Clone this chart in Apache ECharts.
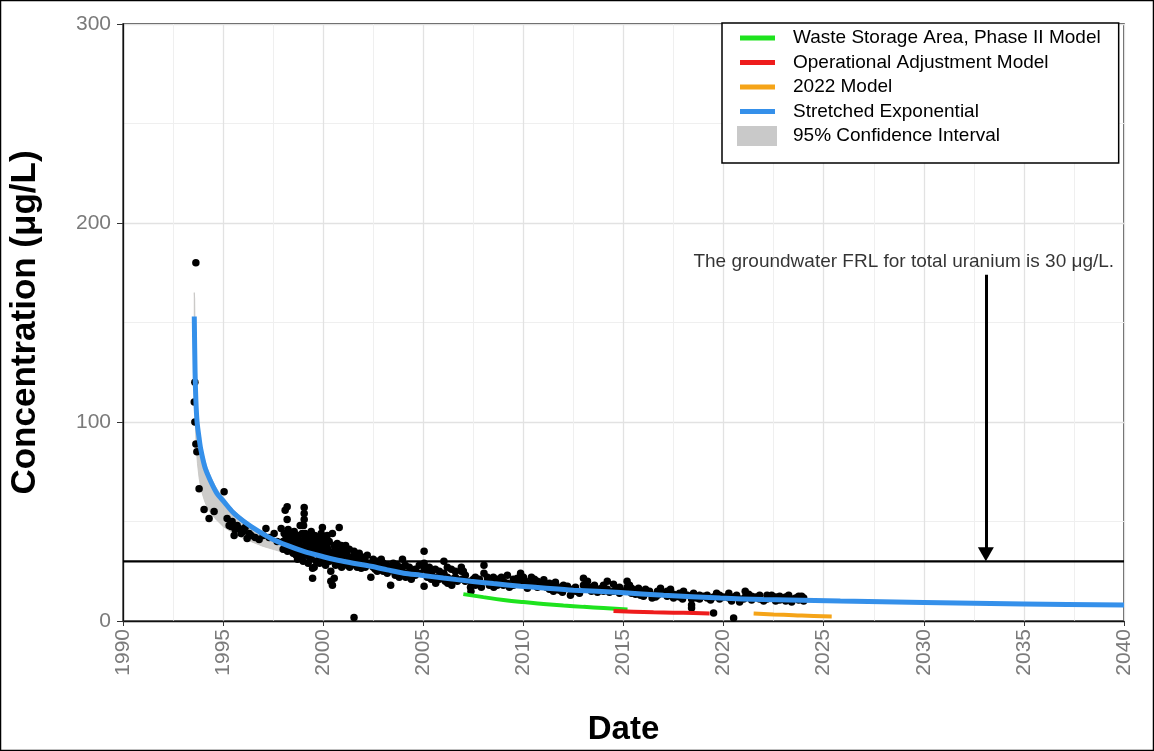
<!DOCTYPE html>
<html><head><meta charset="utf-8">
<script src="https://cdn.jsdelivr.net/npm/echarts@6/dist/echarts.min.js"></script>
<style>html,body{margin:0;padding:0;background:#fff}#c{width:1154px;height:751px}</style>
</head><body><div id="c"></div>
<script>
// ---------- data ----------
const yearTicks = [1990, 1995, 2000, 2005, 2010, 2015, 2020, 2025, 2030, 2035, 2040];
const concTicks = [0, 100, 200, 300];

const obsPoints = [
[1993.64,180],[1993.59,120],[1993.56,110],[1993.59,100],[1993.64,89],[1993.69,85],[1993.8,66.5],[1994.05,56],[1994.3,51.5],[1994.55,55],
[1995.05,65],[1995.2,51.5],[1995.3,48],[1995.4,47.5],[1995.45,50],[1995.55,43],[1995.6,46],[1995.7,48],[1995.8,46.5],[1995.9,44],
[1996.0,45],[1996.1,47],[1996.2,41.5],[1996.3,44],[1996.4,43],[1996.6,42],[1996.8,41],[1997.0,43],[1997.14,46.5],[1997.3,42],
[1997.55,44],[1997.7,40],[1997.9,46.5],
[1998.0,40],[1998.0,36],[1998.05,44],[1998.1,55.7],[1998.1,38],[1998.15,42],[1998.2,57.4],[1998.2,51],[1998.22,35],[1998.25,46],
[1998.3,40],[1998.3,37],[1998.35,44],[1998.4,38],[1998.45,42],[1998.45,35],[1998.5,34],[1998.55,39],[1998.55,45],[1998.6,36],
[1998.65,41],[1998.65,33],[1998.72,31],[1998.72,38],[1998.75,43],[1998.8,35],[1998.8,40],[1998.85,48],[1998.9,37],[1998.9,33],
[1998.95,44],[1999.05,57],[1999.05,54],[1999.05,51],[1999.02,48],[1999.0,36],[1999.05,41],[1999.0,30],[1999.1,44],[1999.1,38],
[1999.15,33],[1999.2,40],[1999.2,35],[1999.25,29],[1999.3,42],[1999.3,36],[1999.35,31],[1999.4,45],[1999.4,38],[1999.42,33],
[1999.47,21.5],[1999.47,26.5],[1999.5,40],[1999.55,27],[1999.55,36],[1999.58,43],[1999.6,39],[1999.62,34],[1999.65,30],[1999.7,42],
[1999.72,36],[1999.8,40],[1999.8,33],[1999.82,29],[1999.9,38],[1999.9,44],[1999.92,35],[1999.96,47],[1999.96,32],[2000.0,41],
[2000.02,36],[2000.05,30],[2000.1,39],[2000.1,34],[2000.12,28],[2000.2,43],[2000.2,37],[2000.22,32],[2000.3,40],[2000.3,35],
[2000.32,30],[2000.38,25],[2000.38,20],[2000.46,44],[2000.46,18],[2000.48,33],[2000.55,21.5],[2000.55,38],[2000.6,36],[2000.6,31],
[2000.62,28],[2000.7,39],[2000.7,33],[2000.8,47],[2000.8,35],[2000.82,30],[2000.9,38],[2000.9,32],[2000.92,27],[2001.0,36],
[2001.0,30],[2001.1,34],[2001.1,29],[2001.12,38],[2001.2,33],[2001.2,28],[2001.3,36],[2001.3,31],[2001.32,27],[2001.4,32],
[2001.4,29],[2001.54,1.8],[2001.54,35],[2001.56,30],[2001.6,33],[2001.62,28],[2001.7,31],[2001.7,27],[2001.8,34],[2001.8,29],
[2001.9,30],[2001.9,26.5],[2002.0,32],[2002.0,28],[2002.1,30],[2002.1,27],[2002.2,33],[2002.2,29],[2002.38,22],[2002.38,29],
[2002.5,31],[2002.5,27],[2002.6,29],[2002.6,26],[2002.7,30],[2002.7,25],[2002.8,28],[2002.8,26],[2002.9,31],[2002.9,27],
[2003.0,29],[2003.0,25],[2003.2,28],[2003.2,24],[2003.37,18],[2003.37,26],[2003.5,29],[2003.5,25],[2003.6,27],[2003.6,23],
[2003.7,28],[2003.7,24],[2003.8,26],[2003.8,22],[2003.96,31],[2003.96,27],[2004.1,28],[2004.1,24],[2004.12,22],[2004.3,27],
[2004.3,23],[2004.4,25],[2004.4,21],[2004.6,26],[2004.6,23],[2004.8,28],[2004.8,24],[2005.04,35],[2005.04,29],[2005.06,26],
[2005.04,17.4],[2005.2,25],[2005.2,22],[2005.4,24],[2005.4,21],[2005.6,26],[2005.6,22],[2005.62,19],[2005.8,25],[2005.8,21],
[2006.03,30],[2006.03,24],[2006.2,27],[2006.2,22],[2006.22,19],[2006.4,26],[2006.4,21],[2006.42,18],[2006.6,25],[2006.6,22],
[2006.9,27],[2006.9,25],[2006.92,21],[2007.1,23],[2007.1,20],[2007.36,20],[2007.36,17],[2007.38,15],[2007.6,22],[2007.6,18],
[2007.8,21],[2007.8,19],[2008.03,28],[2008.03,24],[2008.2,22],[2008.2,20],[2008.5,22],[2008.5,19],[2008.52,17],[2008.7,18],
[2008.7,21],[2009.0,20],[2009.0,18],[2009.2,23],[2009.2,19],[2009.5,21],[2009.5,18],[2009.7,21.5],[2009.7,19],[2009.86,24],
[2009.86,20],[2010.1,20],[2010.1,18],[2010.4,22],[2010.4,19],[2010.7,20],[2010.7,17],[2011.02,20.7],[2011.02,18],[2011.3,19],
[2011.3,16],[2011.5,15],[2011.5,18],[2011.8,17],[2011.8,15.5],[2012.0,18],[2012.0,16],[2012.35,13],[2012.35,16],[2012.6,17],
[2012.6,15],[2013.0,21.5],[2013.0,18],[2013.2,20],[2013.2,17],[2013.4,17],[2013.4,15],[2013.7,16],[2013.7,14.5],[2014.0,18],
[2014.0,15],[2014.19,20],[2014.19,16],[2014.5,18.5],[2014.5,15],[2014.8,17],[2014.8,14],[2015.18,20],[2015.18,17],[2015.4,16.5],
[2015.4,14],[2015.6,15.5],[2015.6,13.5],[2015.85,15],[2015.85,13],[2016.1,16],[2016.1,14],[2016.43,13],[2016.43,11.5],[2016.7,15],
[2016.7,13],[2016.85,16.5],[2016.85,14],[2017.18,15],[2017.18,12.5],[2017.5,11.5],[2017.5,13.5],[2017.8,14],[2017.8,12],[2018.0,15],
[2018.0,12.5],[2018.4,8],[2018.4,6.5],[2018.4,11],[2018.5,12.4],[2018.5,14],[2018.8,13],[2018.8,11],[2019.18,11.5],[2019.18,13],
[2019.5,4],[2019.5,12],[2019.8,11],[2019.8,13],[2020.26,14],[2020.26,11.5],[2020.5,1.5],[2020.5,12],[2020.8,11],[2020.8,9.5],
[2021.08,15],[2021.08,12],[2021.4,12.5],[2021.4,10.5],[2021.8,11],[2021.8,13],[2022.17,13],[2022.17,11],[2022.6,10],[2022.6,12],
[2022.8,12.4],[2022.8,10.5],[2023.1,10],[2023.1,12],[2023.4,11],[2023.4,9.5],[2023.75,12.4],[2023.75,10.5],[2024.0,10],[2024.0,11.5],
[2005.3,27],[2005.9,23],[2006.1,20],[2006.7,20],[2007.0,25],[2007.5,21],[2007.9,17],[2008.3,18],[2008.9,22],[2009.3,17],
[2009.6,20],[2010.0,22],[2010.2,16.5],[2010.55,21],[2010.9,18.5],[2011.15,17],[2011.6,19.5],[2011.95,14.5],[2012.2,17.5],[2012.8,14],
[2013.1,16],[2013.55,18],[2013.9,16.5],[2014.3,14.5],[2014.65,16],[2015.0,15],[2015.3,18],[2015.75,16.5],[2016.0,12.5],[2016.3,15],
[2016.6,12],[2017.0,14],[2017.35,16],[2017.65,13],[2017.95,11],[2018.2,13],[2018.65,11.5],[2019.0,12.5],[2019.35,10.5],[2019.65,14],
[2020.0,12],[2020.4,10],[2020.65,13],[2021.0,11],[2021.25,13.5],[2021.6,12],[2022.0,10],[2022.4,13],[2022.95,11],[2023.25,13],
[2023.6,11.5],[2023.9,12.5]
];

const stretchedYears  = [1993.56,1993.6,1993.64,1993.7,1993.8,1993.89,1994.1,1994.39,1994.7,1995.04,1995.5,1996.04,1996.7,1997.39,1998.2,1999.03,2000,2000.73,2001.5,2002.38,2003.2,2004.02,2004.87,2006,2007.36,2008.5,2009.86,2011,2012.5,2014.85,2017,2019.84,2022,2025.83,2030,2035,2040];
const stretchedValues = [153,125,111,100,92,86,77,70,64,60,54.5,50,45.5,41.5,38,35,32.3,30.5,29,27.5,25.7,24,23,21.6,20,18.8,17.5,16.6,15.5,14.3,12.9,11.5,10.8,10,9.3,8.6,8];

const ciYears = [1993.56,1993.58,1993.62,1993.66,1993.72,1993.8,1993.9,1994.05,1994.2,1994.4,1994.6,1994.8,1995.0,1995.3,1995.6,1996.0,1996.5,1997.0,1997.5,1998.0,1999.0,2000.0,2002.0,2005.0,2010.0,2015.0,2020.0,2030.0,2040.0];
const ciLower = [140,115,97,87,79,72,66,61,57,54,51.5,49.5,47.5,45.5,43.8,41.5,39.5,37.5,36,34.5,32.5,30.5,26.7,22.2,16.8,13.4,11,8.7,7.4];
const ciUpper = [165,162,125,110,100,93,88,82,77,72,68,64.5,61.5,58,55,51.5,47.5,44.2,41.8,39.5,35.8,33,28.8,23.6,17.9,14.5,12,9.7,8.6];

const wsaYears = [2007.0,2008.0,2009.0,2010.0,2011.0,2012.0,2013.0,2014.0,2015.2];
const wsaValues = [13.5,12,10.6,9.5,8.6,7.8,7.1,6.5,5.8];
const oaYears = [2014.5,2015.5,2016.5,2017.5,2018.5,2019.3];
const oaValues = [5.0,4.7,4.4,4.2,4.0,3.8];
const m2022Years = [2021.5,2022.5,2023.5,2024.5,2025.4];
const m2022Values = [3.8,3.3,2.9,2.5,2.3];

const frlValue = 30;
const arrowYear = 2033.1;
const arrowTop = 174;
const arrowTipValue = 33.5;
const noteText = 'The groundwater FRL for total uranium is 30 μg/L.';
const notePos = [2029, 180.5];

const legendNames = ['Waste Storage Area, Phase II Model','Operational Adjustment Model','2022 Model','Stretched Exponential','95% Confidence Interval'];
const colors = {wsa:'#1ee31e', oa:'#ee1c1c', m2022:'#f5a418', se:'#3590ea', ci:'#c9c9c9'};

// ---------- build ----------
const zip = (xs, ys) => xs.map((x, i) => [x, ys[i]]);
const FONT = 'Liberation Sans, Arial, sans-serif';
const lineIcon = 'path://M0,0 M51,20 M3,7.5 L38,7.5 L38,12.5 L3,12.5 Z';
const boxIcon = 'path://M0,0 M51,20 M0,0 L40,0 L40,20 L0,20 Z';

const chart = echarts.init(document.getElementById('c'), null, {renderer:'canvas'});
chart.setOption({
  animation: false,
  backgroundColor: '#fff',
  grid: {left: 122, right: 30, top: 24, bottom: 128, show: true, borderColor: '#111', borderWidth: 1.3, backgroundColor: 'transparent'},
  xAxis: {
    type: 'value', min: yearTicks[0], max: yearTicks[yearTicks.length-1], interval: yearTicks[1]-yearTicks[0],
    name: 'Date', nameLocation: 'middle', nameGap: 92,
    nameTextStyle: {fontFamily: FONT, fontSize: 33, fontWeight: 'bold', color: '#000'},
    axisLine: {show: true, onZero: false, lineStyle: {color: '#111', width: 1.3}},
    axisTick: {show: true, length: 5, lineStyle: {color: '#333'}},
    minorTick: {show: false, splitNumber: 2},
    axisLabel: {rotate: 90, margin: 8, fontFamily: FONT, fontSize: 21, color: '#7a7a7a', formatter: v => String(v)},
    splitLine: {show: true, lineStyle: {color: '#e2e2e2', width: 1.3}},
    minorSplitLine: {show: true, lineStyle: {color: '#efefef', width: 1}}
  },
  yAxis: {
    type: 'value', min: concTicks[0], max: concTicks[concTicks.length-1], interval: concTicks[1]-concTicks[0],
    name: 'Concentration (μg/L)', nameLocation: 'middle', nameGap: 80,
    nameTextStyle: {fontFamily: FONT, fontSize: 35, fontWeight: 'bold', color: '#000'},
    axisLine: {show: true, onZero: false, lineStyle: {color: '#111', width: 1.3}},
    axisTick: {show: true, length: 6, lineStyle: {color: '#333'}},
    minorTick: {show: false, splitNumber: 2},
    axisLabel: {margin: 12, fontFamily: FONT, fontSize: 21, color: '#7a7a7a'},
    splitLine: {show: true, lineStyle: {color: '#e2e2e2', width: 1.3}},
    minorSplitLine: {show: true, lineStyle: {color: '#efefef', width: 1}}
  },
  legend: {
    orient: 'vertical', left: 722, top: 23,
    padding: [5, 18, 17, 15], itemWidth: 51, itemHeight: 20, itemGap: 4.5,
    borderColor: '#000', borderWidth: 1.5, backgroundColor: '#fff',
    selectedMode: false,
    textStyle: {fontFamily: FONT, fontSize: 19, color: '#000'},
    itemStyle: {borderWidth: 0},
    data: [
      {name: legendNames[0], icon: lineIcon, itemStyle: {color: colors.wsa}},
      {name: legendNames[1], icon: lineIcon, itemStyle: {color: colors.oa}},
      {name: legendNames[2], icon: lineIcon, itemStyle: {color: colors.m2022}},
      {name: legendNames[3], icon: lineIcon, itemStyle: {color: colors.se}},
      {name: legendNames[4], icon: boxIcon, itemStyle: {color: colors.ci}}
    ]
  },
  graphic: [{type: 'rect', shape: {x: 0.5, y: 0.5, width: 1153, height: 750}, style: {fill: 'none', stroke: '#000', lineWidth: 1.5}, z: 100, silent: true}],
  series: [
    {type: 'custom', name: legendNames[4], data: [[ciYears[0], ciUpper[0]]], clip: true, z: 1, silent: true,
     itemStyle: {color: colors.ci},
     renderItem: (params, api) => {
       if (params.dataIndex !== 0) return null;
       const up = ciYears.map((y, i) => api.coord([y, ciUpper[i]]));
       const lo = ciYears.map((y, i) => api.coord([y, ciLower[i]])).reverse();
       return {type: 'polygon', shape: {points: up.concat(lo)}, style: {fill: 'rgba(200,198,196,0.9)', stroke: 'rgba(200,198,196,0.9)', lineWidth: 1}};
     }},
    {type: 'scatter', name: 'Observed', data: obsPoints, symbolSize: 7.5, itemStyle: {color: '#000', opacity: 1}, z: 2, silent: true},
    {type: 'line', name: 'FRL', data: [[yearTicks[0], frlValue], [yearTicks[yearTicks.length-1], frlValue]], symbol: 'none',
     lineStyle: {color: '#000', width: 2.2}, z: 3, silent: true,
     markLine: {silent: true, symbol: ['none', 'triangle'], symbolSize: [16, 14],
       lineStyle: {color: '#000', width: 3, type: 'solid'}, label: {show: false},
       data: [[{coord: [arrowYear, arrowTop]}, {coord: [arrowYear, arrowTipValue]}]]}},
    {type: 'line', name: legendNames[0], data: zip(wsaYears, wsaValues), symbol: 'none', smooth: true, color: colors.wsa,
     lineStyle: {color: colors.wsa, width: 4}, z: 4, silent: true},
    {type: 'line', name: legendNames[1], data: zip(oaYears, oaValues), symbol: 'none', smooth: true, color: colors.oa,
     lineStyle: {color: colors.oa, width: 4}, z: 4, silent: true},
    {type: 'line', name: legendNames[2], data: zip(m2022Years, m2022Values), symbol: 'none', smooth: true, color: colors.m2022,
     lineStyle: {color: colors.m2022, width: 4}, z: 4, silent: true},
    {type: 'line', name: legendNames[3], data: zip(stretchedYears, stretchedValues), symbol: 'none', smooth: 0.3, color: colors.se,
     lineStyle: {color: colors.se, width: 5}, z: 5, silent: true},
    {type: 'scatter', name: 'note', data: [notePos], symbolSize: 0, silent: true, z: 6,
     label: {show: true, position: 'inside', formatter: noteText, fontFamily: FONT, fontSize: 19, color: '#000'}}
  ]
});
</script></body></html>
